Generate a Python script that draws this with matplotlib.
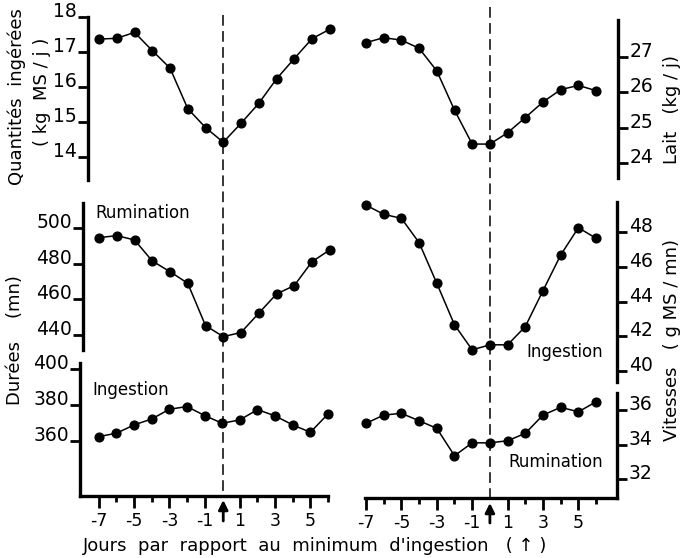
import matplotlib
matplotlib.use("Agg")
import matplotlib.pyplot as plt

plt.rcParams["font.family"] = "DejaVu Sans"
plt.rcParams["axes.unicode_minus"] = False

W, H = 684, 558

# jours par rapport au minimum d'ingestion
days = [-7, -6, -5, -4, -3, -2, -1, 0, 1, 2, 3, 4, 5, 6]

quantites = [17.37, 17.39, 17.56, 17.04, 16.54, 15.38, 14.84, 14.42, 14.96, 15.53, 16.23, 16.81, 17.38, 17.65]
lait = [27.41, 27.55, 27.48, 27.25, 26.61, 25.50, 24.54, 24.54, 24.86, 25.29, 25.73, 26.08, 26.20, 26.05]
duree_rumination = [494.6, 495.7, 493.3, 481.5, 475.5, 469.0, 445.3, 439.1, 441.4, 452.2, 463.0, 467.7, 481.1, 487.7]
duree_ingestion = [362.4, 364.3, 368.9, 372.2, 377.6, 379.1, 374.1, 369.8, 371.7, 377.4, 373.9, 368.9, 364.8, 375.0]
vitesse_ingestion = [49.55, 49.02, 48.79, 47.39, 45.05, 42.66, 41.22, 41.51, 41.51, 42.56, 44.63, 46.68, 48.25, 47.64]
vitesse_rumination = [35.23, 35.71, 35.81, 35.38, 34.94, 33.35, 34.10, 34.10, 34.22, 34.65, 35.71, 36.16, 35.90, 36.48]

q_ticks = [14, 15, 16, 17, 18]
lait_ticks = [24, 25, 26, 27]
dr_ticks = [440, 460, 480, 500]
di_ticks = [360, 380, 400]
vi_ticks = [40, 42, 44, 46, 48]
vr_ticks = [32, 34, 36]
day_major = [-7, -5, -3, -1, 1, 3, 5]
day_minor = [-6, -4, -2, 2, 4, 6]

LEFT_COL = (99, 17.75)    # pixel of day -7, pixels per day
RIGHT_COL = (366, 17.7)

fig = plt.figure(figsize=(W / 100, H / 100), dpi=100)


def panel(col, x0, x1, y0, y1, ylim, side):
    origin, step = col
    ax = fig.add_axes([x0 / W, 1 - y1 / H, (x1 - x0) / W, (y1 - y0) / H])
    ax.set_xlim(-7 + (x0 - origin) / step, -7 + (x1 - origin) / step)
    ax.set_ylim(*ylim)
    ax.patch.set_visible(False)
    for s in ax.spines.values():
        s.set_visible(False)
        s.set_linewidth(2.4)
    ax.spines[side].set_visible(True)
    ax.set_xticks([])
    if side == "right":
        ax.yaxis.tick_right()
    ax.tick_params(axis="y", direction="out", length=7, width=2.0, labelsize=13.5,
                   pad=1 if side == "left" else 1.5)
    return ax


def series(ax, y):
    ax.plot(days, y, color="black", lw=1.1, marker="o", ms=6.3, clip_on=False)


def baseline_labels(ax):
    for t in ax.get_yticklabels():
        t.set_verticalalignment("baseline")


def day_axis(ax):
    ax.spines["bottom"].set_visible(True)
    ax.set_xticks(day_major)
    ax.set_xticklabels([str(d) for d in day_major])
    ax.set_xticks(day_minor, minor=True)
    ax.tick_params(axis="x", which="major", direction="out", length=8.5, width=2.0,
                   labelsize=12.5, pad=3)
    ax.tick_params(axis="x", which="minor", direction="out", length=4.5, width=2.0)


# colonne gauche
ax = panel(LEFT_COL, 88, 330, 17, 180, (13.34, 18.0), "left")
ax.set_yticks(q_ticks)
baseline_labels(ax)
series(ax, quantites)

ax = panel(LEFT_COL, 83, 330, 203, 350, (431.6, 514.0), "left")
ax.set_yticks(dr_ticks)
baseline_labels(ax)
series(ax, duree_rumination)

ax = panel(LEFT_COL, 80, 328, 363, 496, (329.4, 403.3), "left")
ax.set_yticks(di_ticks)
baseline_labels(ax)
day_axis(ax)
series(ax, duree_ingestion)

# colonne droite
ax = panel(RIGHT_COL, 365, 618, 20, 178, (23.58, 28.05), "right")
ax.set_yticks(lait_ticks)
baseline_labels(ax)
series(ax, lait)

ax = panel(RIGHT_COL, 365, 617, 202, 382, (39.37, 49.73), "right")
ax.set_yticks(vi_ticks)
baseline_labels(ax)
series(ax, vitesse_ingestion)

ax = panel(RIGHT_COL, 365, 617, 393, 498, (30.90, 36.99), "right")
ax.set_yticks(vr_ticks)
baseline_labels(ax)
day_axis(ax)
series(ax, vitesse_rumination)

# ligne verticale pointillée et flèche au jour 0
for col, x0, x1, ytop, ybot, yarr in [(LEFT_COL, 80, 330, 15, 496, (500, 521)),
                                      (RIGHT_COL, 365, 617, 7, 498, (503, 523))]:
    origin, step = col
    ov = fig.add_axes([x0 / W, 0, (x1 - x0) / W, 1])
    ov.set_xlim(-7 + (x0 - origin) / step, -7 + (x1 - origin) / step)
    ov.set_ylim(H, 0)
    ov.axis("off")
    ov.plot([0, 0], [ytop, ybot], color="black", lw=1.1, dashes=(7, 3.5))
    ov.annotate("", xy=(0, yarr[0]), xytext=(0, yarr[1]),
                arrowprops=dict(arrowstyle="-|>", lw=2.0, color="black",
                                mutation_scale=14, shrinkA=0, shrinkB=0))


def ftext(x, y, s, **kw):
    fig.text(x / W, 1 - y / H, s, **kw)


ftext(17, 97, "Quantités  ingérées", rotation=90, ha="center", va="center", fontsize=13)
ftext(42, 92, "( kg  MS / j )", rotation=90, ha="center", va="center", fontsize=13)
ftext(15, 340, "Durées    (mn)", rotation=90, ha="center", va="center", fontsize=13)
ftext(672, 110, "Lait   (kg / j)", rotation=90, ha="center", va="center", fontsize=13)
ftext(672, 340, "Vitesses   ( g MS / mn)", rotation=90, ha="center", va="center", fontsize=13)

ftext(95, 213, "Rumination", ha="left", va="center", fontsize=12)
ftext(92, 390, "Ingestion", ha="left", va="center", fontsize=12)
ftext(603, 352, "Ingestion", ha="right", va="center", fontsize=12)
ftext(603, 462, "Rumination", ha="right", va="center", fontsize=12)

ftext(83, 546, "Jours  par  rapport  au  minimum  d'ingestion   ( \u2191 )",
      ha="left", va="center", fontsize=13)

fig.savefig("out.png", dpi=100)
